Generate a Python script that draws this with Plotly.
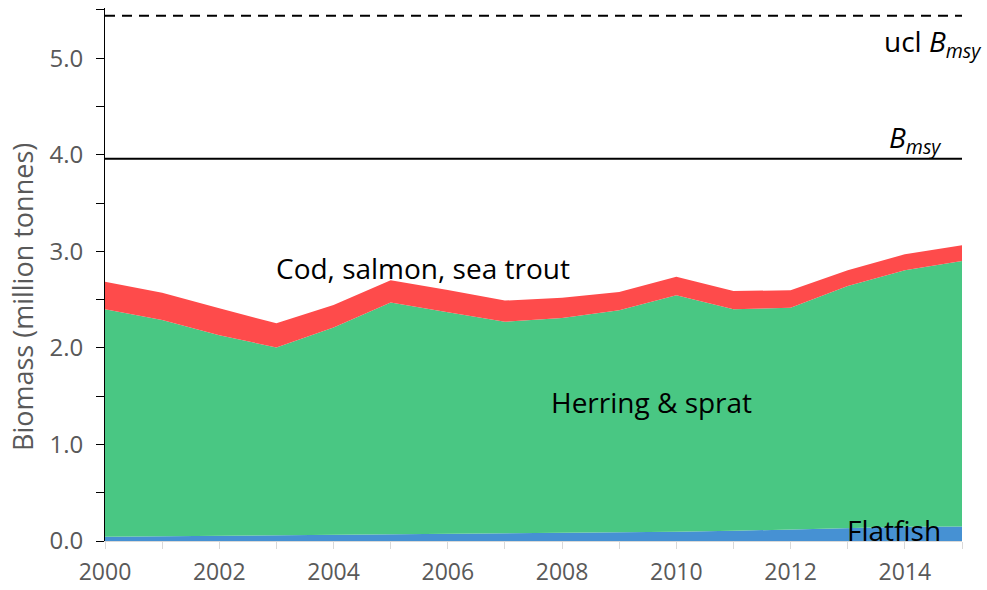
import plotly.graph_objects as go

years = list(range(2000, 2016))

# Biomass by species group (million tonnes), stacked bottom-up
flatfish = [0.045, 0.050, 0.055, 0.060, 0.065, 0.065, 0.070, 0.075,
            0.078, 0.085, 0.095, 0.105, 0.120, 0.140, 0.148, 0.150]
herring_sprat = [2.355, 2.240, 2.075, 1.945, 2.145, 2.405, 2.300, 2.195,
                 2.232, 2.305, 2.451, 2.295, 2.295, 2.500, 2.657, 2.750]
cod_salmon_trout = [0.285, 0.280, 0.280, 0.249, 0.233, 0.230, 0.230, 0.220,
                    0.210, 0.190, 0.190, 0.188, 0.183, 0.165, 0.166, 0.164]

b_msy = 3.96
ucl_b_msy = 5.44

y_tick_vals = [0.0, 0.5, 1.0, 1.5, 2.0, 2.5, 3.0, 3.5, 4.0, 4.5, 5.0, 5.5]
y_tick_text = ["0.0", "", "1.0", "", "2.0", "", "3.0", "", "4.0", "", "5.0", ""]
x_tick_vals = years
x_tick_text = [str(y) if y % 2 == 0 else "" for y in years]

FONT = "Open Sans"
GREY = "#595959"

fig = go.Figure()

series = [
    ("Flatfish", flatfish, "#4691D3"),
    ("Herring & sprat", herring_sprat, "#49C783"),
    ("Cod, salmon, sea trout", cod_salmon_trout, "#FE4B4B"),
]
for name, vals, color in series:
    fig.add_trace(go.Scatter(
        x=years, y=vals, name=name, mode="lines",
        stackgroup="biomass", line=dict(width=0, color=color),
        fillcolor=color, showlegend=False,
    ))

# Reference points
fig.add_trace(go.Scatter(
    x=[years[0], years[-1]], y=[b_msy, b_msy], mode="lines",
    line=dict(color="black", width=2), showlegend=False,
))
fig.add_trace(go.Scatter(
    x=[years[0], years[-1]], y=[ucl_b_msy, ucl_b_msy], mode="lines",
    line=dict(color="black", width=2, dash="10px,7px"), showlegend=False,
))

label_font = dict(family=FONT, size=28, color="black")
annotations = [
    dict(x=2005.57, y=2.826, text="Cod, salmon, sea trout", xanchor="center", yanchor="middle"),
    dict(x=2009.57, y=1.439, text="Herring &amp; sprat", xanchor="center", yanchor="middle"),
    dict(x=2013.81, y=0.114, text="Flatfish", xanchor="center", yanchor="middle"),
    dict(x=2014.67, y=4.16, text="<i>B</i><sub><i>msy</i></sub>", xanchor="right", yanchor="middle"),
]
for a in annotations:
    a.update(xref="x", yref="y", showarrow=False, font=label_font)

# Label beyond the right end of the x range, so it is placed in paper space
annotations.append(dict(
    x=1.0245, y=0.935, xref="paper", yref="paper",
    text="ucl <i>B</i><sub><i>msy</i></sub>", xanchor="right", yanchor="middle",
    showarrow=False, font=label_font,
))
# Y-axis title
annotations.append(dict(
    x=-0.0955, y=0.458, xref="paper", yref="paper", textangle=-90,
    text="Biomass (million tonnes)", xanchor="center", yanchor="middle",
    showarrow=False, font=dict(family=FONT, size=27, color=GREY),
))

fig.update_layout(
    width=987, height=590,
    margin=dict(l=105, r=25, t=8, b=49),
    paper_bgcolor="white", plot_bgcolor="white",
    annotations=annotations,
    xaxis=dict(
        range=[2000, 2015], tickvals=x_tick_vals, ticktext=x_tick_text,
        ticks="outside", ticklen=7, tickcolor="#D9D9D9",
        showline=True, linecolor="#D9D9D9", linewidth=1,
        showgrid=False, zeroline=False, ticklabelstandoff=3, automargin=False,
        tickfont=dict(family=FONT, size=23, color=GREY),
    ),
    yaxis=dict(
        range=[0, 5.52], tickvals=y_tick_vals, ticktext=y_tick_text,
        ticks="outside", ticklen=8, tickcolor="black",
        showline=True, linecolor="black", linewidth=1,
        showgrid=False, zeroline=False, ticklabelstandoff=8, automargin=False,
        tickfont=dict(family=FONT, size=24, color=GREY),
    ),
)

fig.write_html("out.html")
